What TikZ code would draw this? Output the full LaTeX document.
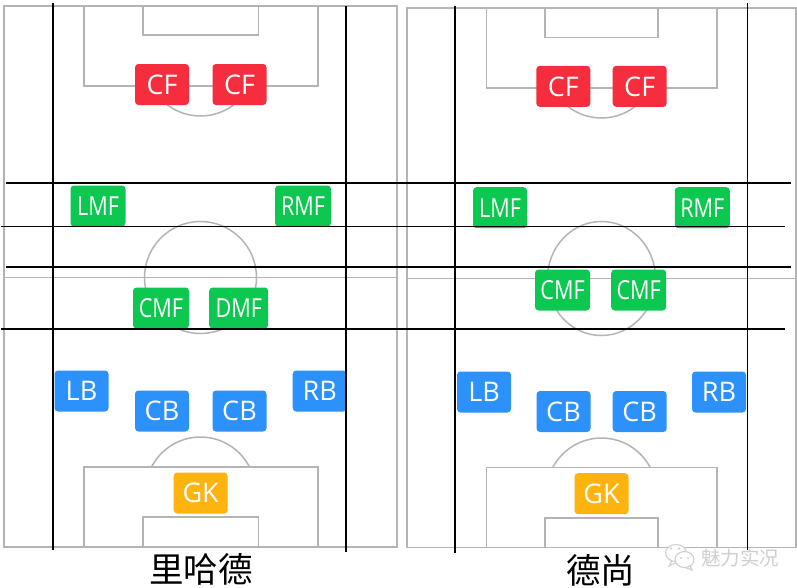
\documentclass[tikz,border=0pt]{standalone}
\usepackage{fontspec}
\setmainfont{Open Sans}
\newfontfamily\cjk{Noto Sans CJK SC}
\definecolor{pitchgrey}{HTML}{B4B4B4}
\definecolor{redp}{HTML}{F52D3C}
\definecolor{greenp}{HTML}{0DC850}
\definecolor{bluep}{HTML}{2D91FB}
\definecolor{amberp}{HTML}{FFB30F}
\definecolor{wmgrey}{HTML}{CFCFCF}
\tikzset{
  pitch/.style={draw=pitchgrey,line width=1.5pt},
  player/.style={rounded corners=3.5pt,minimum height=41pt,text=white,inner sep=0pt,font=\fontsize{27}{27}\selectfont,text height=19.4pt,text depth=0pt},
  two/.style={player,minimum width=54pt},
  three/.style={player,minimum width=55pt},
  redbox/.style={two,fill=redp},
  bluebox/.style={two,fill=bluep},
  amberbox/.style={two,fill=amberp},
  greenbox/.style={three,fill=greenp},
  guide/.style={draw=black,line width=1.3pt},
  guidebold/.style={draw=black,line width=1.8pt},
  titletext/.style={font=\cjk\fontsize{34.5}{35}\selectfont,inner sep=0pt},
  wm/.style={draw=wmgrey,line width=1.1pt,fill=white}
}
\newcommand{\tightlbl}[1]{\scalebox{0.8}[0.97]{#1}}
\begin{document}
\begin{tikzpicture}[x=1pt,y=-1pt]
\useasboundingbox (0,0) rectangle (797,587);
\fill[white] (0,0) rectangle (797,587);
% left pitch
\draw[pitch] (4,6) rectangle (397,547);
\draw[pitch] (4,277.5) -- (397,277.5);
\draw[pitch] (84,6) rectangle (318,86);
\draw[pitch] (143,6) rectangle (258.5,35);
\draw[pitch] (84,547) rectangle (318,467);
\draw[pitch] (143,547) rectangle (258.5,517);
\draw[pitch] (200.5,277.5) circle[radius=56pt];
\begin{scope}\clip (100,86) rectangle (300,130);
\draw[pitch] (200.5,61) circle[radius=55pt];\end{scope}
\begin{scope}\clip (100,425) rectangle (300,467);
\draw[pitch] (200.5,492) circle[radius=55pt];\end{scope}
% right pitch
\draw[pitch] (407,8) rectangle (796,547.5);
\draw[pitch] (407,278.5) -- (796,278.5);
\draw[pitch] (486.5,8) rectangle (717,88);
\draw[pitch] (545,8) rectangle (658,37.5);
\draw[pitch] (486.5,547.5) rectangle (717,467.5);
\draw[pitch] (545,547.5) rectangle (658,518);
\draw[pitch] (601.5,278.5) ellipse[x radius=54pt,y radius=57pt];
\begin{scope}\clip (500,88) rectangle (700,130);
\draw[pitch] (601.5,63) circle[radius=55pt];\end{scope}
\begin{scope}\clip (500,425) rectangle (700,467.5);
\draw[pitch] (601.5,493) circle[radius=55pt];\end{scope}
% left players
\node[redbox] (lcf1) at (162,84.5) {CF};
\node[redbox] (lcf2) at (239.5,84.5) {CF};
\node[greenbox] (llmf) at (98,206) {\tightlbl{LMF}};
\node[greenbox,minimum width=56pt] (lrmf) at (303,206) {\tightlbl{RMF}};
\node[greenbox,minimum width=56pt] (lcmf) at (161,308) {\tightlbl{CMF}};
\node[greenbox,minimum width=59pt] (ldmf) at (238.7,308) {\tightlbl{DMF}};
\node[bluebox] (llb) at (81.5,391) {LB};
\node[bluebox] (lrb) at (319.7,391) {RB};
\node[bluebox] (lcb1) at (162,411) {CB};
\node[bluebox] (lcb2) at (239.5,411) {CB};
\node[amberbox] (lgk) at (200.7,493) {GK};
% right players
\node[redbox] (rcf1) at (563.3,86.3) {CF};
\node[redbox] (rcf2) at (639.7,86.3) {CF};
\node[greenbox,minimum width=54pt] (rlmf) at (500,207.7) {\tightlbl{LMF}};
\node[greenbox] (rrmf) at (702.3,207.7) {\tightlbl{RMF}};
\node[greenbox] (rcmf1) at (562.5,290) {\tightlbl{CMF}};
\node[greenbox] (rcmf2) at (638.7,290) {\tightlbl{CMF}};
\node[bluebox] (rlb) at (484,392) {LB};
\node[bluebox] (rrb) at (719,392) {RB};
\node[bluebox] (rcb1) at (563.5,411.5) {CB};
\node[bluebox] (rcb2) at (639.7,411.5) {CB};
\node[amberbox] (rgk) at (601.5,493.7) {GK};
% black guide lines
\coordinate (va1) at (53,3);   \coordinate (va2) at (53,550);
\coordinate (vb1) at (346,6);  \coordinate (vb2) at (346,552);
\coordinate (vc1) at (455,6);  \coordinate (vc2) at (455,553);
\coordinate (vd1) at (747.5,3);\coordinate (vd2) at (747.5,550);
\coordinate (ha1) at (6,183);  \coordinate (ha2) at (791,183);
\coordinate (hb1) at (1,226.5);\coordinate (hb2) at (785,226.5);
\coordinate (hc1) at (6,267);  \coordinate (hc2) at (791,267);
\coordinate (hd1) at (1,329);  \coordinate (hd2) at (785,329);
\draw[guide] (va1) -- (va2);
\draw[guide] (vb1) -- (vb2);
\draw[guide] (vc1) -- (vc2);
\draw[guide] (vd1) -- (vd2);
\draw[guide] (ha1) -- (ha2);
\draw[guide] (hb1) -- (hb2);
\draw[guidebold] (hc1) -- (hc2);
\draw[guidebold] (hd1) -- (hd2);
% titles
\node[titletext] (tl) at (201,569) {里哈德};
\node[titletext] (tr) at (600.5,570) {德尚};
% watermark
\draw[wm] (672,560.5) -- (669,566) -- (677,562) -- cycle;
\draw[wm] (676,553) ellipse[x radius=10.5pt,y radius=8.5pt];
\draw[wm] (690,565) -- (692,570) -- (684,567) -- cycle;
\draw[wm] (684.5,559.5) ellipse[x radius=9.5pt,y radius=8pt];
\fill[wmgrey] (671,548.5) circle[radius=1.4pt] (679,548.5) circle[radius=1.4pt] (681,558) circle[radius=1.2pt] (688,558) circle[radius=1.2pt];
\node[font=\cjk\fontsize{19.5}{20}\selectfont,text=wmgrey,inner sep=0pt] (wmt) at (740,558.5) {魅力实况};
\end{tikzpicture}
\end{document}
